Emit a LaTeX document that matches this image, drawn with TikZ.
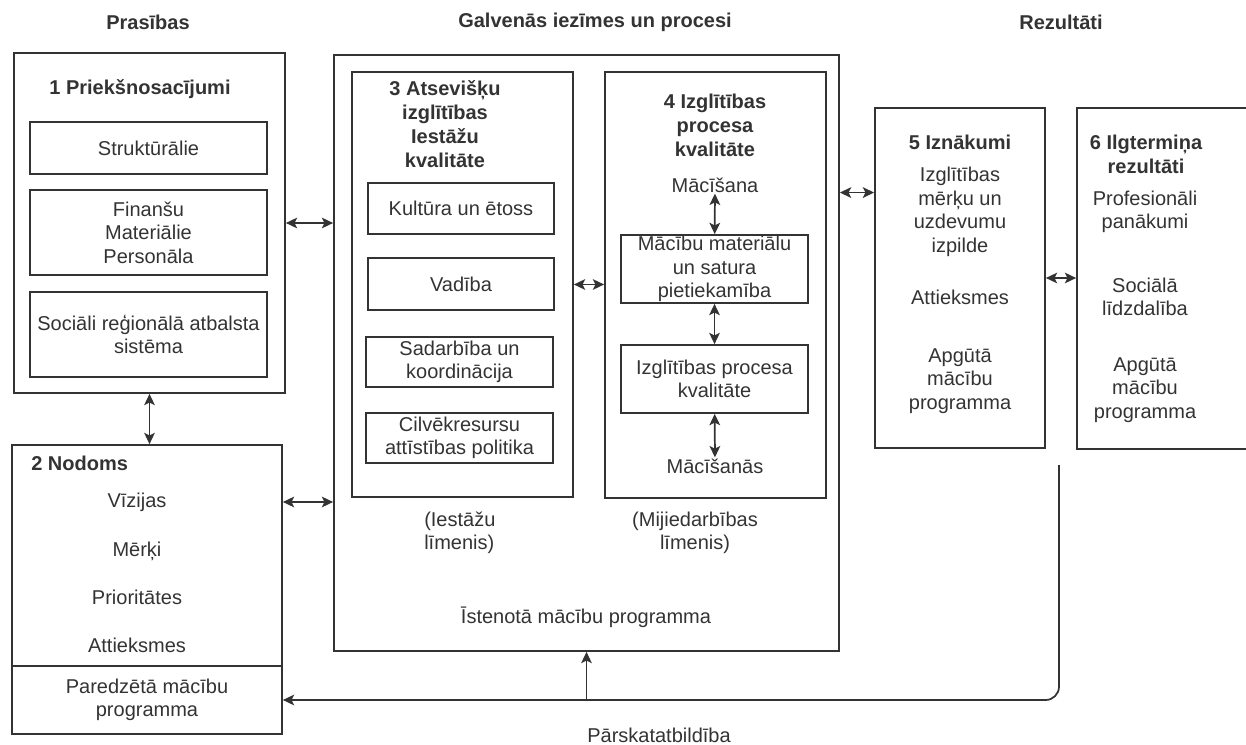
\documentclass[tikz,border=0pt]{standalone}
\usepackage{fontspec}
\setmainfont{Liberation Sans}
\usetikzlibrary{arrows.meta,calc}
\definecolor{ink}{HTML}{333333}

\begin{document}
\begin{tikzpicture}[x=0.75pt,y=0.75pt,yscale=-1,
  every node/.style={text=ink, inner sep=0.75pt, font=\fontsize{15}{17.6}\selectfont},
  frame/.style 2 args={draw=ink, line width=1.3pt, inner sep=0pt, align=center,
    minimum width=#1*0.75pt, minimum height=#2*0.75pt},
  hdr/.style={font=\fontsize{15}{18}\selectfont\bfseries},
  lbl/.style={align=center},
  link/.style={draw=ink, line width=1.3pt, {Stealth[length=8.5pt,width=8pt,inset=2pt]}-{Stealth[length=8.5pt,width=8pt,inset=2pt]}},
  oneway/.style={draw=ink, line width=1.3pt, -{Stealth[length=8.5pt,width=8pt,inset=2pt]}}]
\useasboundingbox (0,0) rectangle (1246,745);

% Shape: Rectangle
\node (box1) at (149.5,223) [frame={271}{340}] {};
% Shape: Rectangle
\node (str) at (148.5,148) [frame={237}{52}] {Struktūrālie};
% Shape: Rectangle
\node (fin) at (148.5,232.5) [frame={237}{85}] {Finanšu\\Materiālie\\Personāla};
% Shape: Rectangle
\node (soc) at (148.5,334.5) [frame={237}{85}] {Sociāli reģionālā atbalsta\\sistēma};
% Shape: Rectangle
\node (box2) at (147,555.5) [frame={270}{221}] {};
% Shape: Rectangle
\node (plan) at (147,700) [frame={270}{68}] {Paredzētā mācību\\programma};
% Shape: Rectangle
\node (big) at (586.5,353) [frame={505}{596}] {};
% Shape: Rectangle
\node (box3) at (462.5,284.5) [frame={221}{425}] {};
% Shape: Rectangle
\node (kult) at (461,208.5) [frame={186}{51}] {Kultūra un ētoss};
% Shape: Rectangle
\node (vad) at (461,284) [frame={186}{52}] {Vadība};
% Shape: Rectangle
\node (sad) at (459.5,362) [frame={187}{50}] {Sadarbība un\\koordinācija};
% Shape: Rectangle
\node (cil) at (459.5,438) [frame={187}{50}] {Cilvēkresursu\\attīstības politika};
% Shape: Rectangle
\node (box4) at (715.5,285) [frame={221}{426}] {};
% Shape: Rectangle
\node (mat) at (714.5,269) [frame={187}{68}] {Mācību materiālu\\un satura\\pietiekamība};
% Shape: Rectangle
\node (proc) at (714.5,379) [frame={187}{68}] {Izglītības procesa\\kvalitāte};
% Shape: Rectangle
\node (box5) at (960,278) [frame={170}{340}] {};
% Shape: Rectangle
\node (box6) at (1163,278.5) [frame={172}{341}] {};

% Text Node
\node (hreq) at (148,22) [hdr] {Prasības};
% Text Node
\node (hmain) at (595,22) [hdr] {Galvenās iezīmes un procesi};
% Text Node
\node (hres) at (1061,22) [hdr] {Rezultāti};
% Text Node
\node (t1) at (140,89) [hdr] {1 Priekšnosacījumi};
% Text Node
\node (t2) at (30,463) [hdr, anchor=west] {2 Nodoms};
% Text Node
\node (viz) at (137,502) {Vīzijas};
% Text Node
\node (merk) at (137,551) {Mērķi};
% Text Node
\node (prior) at (137,597) {Prioritātes};
% Text Node
\node (att) at (137,645) {Attieksmes};
% Text Node
\node (t3) at (445,124) [hdr, lbl] {3 Atsevišķu\\izglītības\\Iestāžu\\kvalitāte};
% Text Node
\node (t4) at (715,125) [hdr, lbl] {4 Izglītības\\procesa\\kvalitāte};
% Text Node
\node (mac1) at (715,185) {Mācīšana};
% Text Node
\node (mac2) at (715,466) {Mācīšanās};
% Text Node
\node (lvl3) at (423,533) [anchor=west, align=left] {(Iestāžu\\līmenis)};
% Text Node
\node (lvl4) at (695,533) [lbl] {(Mijiedarbības\\līmenis)};
% Text Node
\node (isten) at (586,617) {Īstenotā mācību programma};
% Text Node
\node (pars) at (659,735) {Pārskatatbildība};
% Text Node
\node (o1) at (960,142) [hdr] {5 Iznākumi};
% Text Node
\node (o2) at (960,212) [lbl] {Izglītības\\mērķu un\\uzdevumu\\izpilde};
% Text Node
\node (o3) at (960,297) {Attieksmes};
% Text Node
\node (o4) at (960,381) [lbl] {Apgūtā\\mācību\\programma};
% Text Node
\node (r1) at (1146,154) [hdr, lbl] {6 Ilgtermiņa\\rezultāti};
% Text Node
\node (r2) at (1145,212) [lbl] {Profesionāli\\panākumi};
% Text Node
\node (r3) at (1145,297) [lbl] {Sociālā\\līdzdalība};
% Text Node
\node (r4) at (1145,390) [lbl] {Apgūtā\\mācību\\programma};

\coordinate (in5) at ($(box5.north west)!0.25!(box5.south west)$);
\coordinate (fb) at (1059,465);

% Connection
\draw[link] (box1.east) -- (box1.east -| big.west);
% Connection
\draw[link] (box2.east |- viz) -- (viz -| big.west);
% Connection
\draw[link] (box1.south) -- (box1.south |- box2.north);
% Connection
\draw[link] (box3.east) -- (box3.east -| box4.west);
% Connection
\draw[link] (mac1) -- (mat);
% Connection
\draw[link] (mat) -- (proc);
% Connection
\draw[link] (proc) -- (mac2);
% Connection
\draw[link] (big.east |- in5) -- (in5);
% Connection
\draw[link] (box5.east) -- (box5.east -| box6.west);
% Connection
\draw[oneway, rounded corners=10] (fb) |- (plan.east);
% Connection
\draw[oneway] (big.south |- plan.east) -- (big.south);

\end{tikzpicture}
\end{document}
